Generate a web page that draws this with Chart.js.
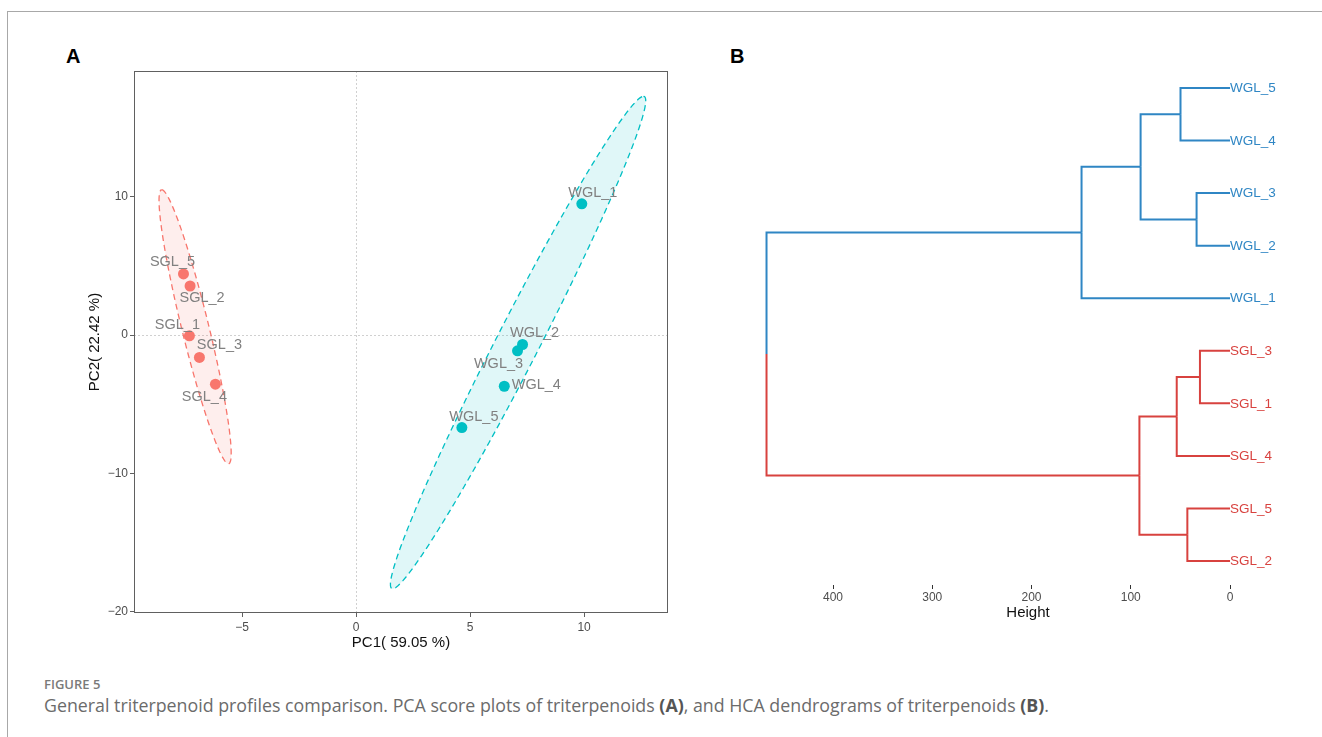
<!DOCTYPE html>
<html>
<head>
<meta charset="utf-8">
<script src="https://cdn.jsdelivr.net/npm/chart.js@4.4.1/dist/chart.umd.min.js"></script>
<style>
  html, body { margin: 0; padding: 0; background: #fff; }
  body { width: 1322px; height: 737px; position: relative; overflow: hidden; font-family: "Liberation Sans", Arial, sans-serif; }
  #frame { position: absolute; left: 7px; top: 11px; right: 0; bottom: 0; border-top: 1px solid #a8a8a8; border-left: 1px solid #a8a8a8; }
  .tag { position: absolute; top: 46px; font-size: 20px; line-height: 20px; font-weight: bold; color: #000; }
  #pcaChart { position: absolute; left: 0; top: 0; }
  #dendChart { position: absolute; left: 700px; top: 0; }
  .figno { position: absolute; left: 44px; top: 676px; font-family: "Open Sans", sans-serif; font-size: 13px; line-height: 16px; font-weight: 600; color: #7a7a7a; }
  .caption { position: absolute; left: 44px; top: 695px; font-family: "Open Sans", sans-serif; font-size: 17.8px; line-height: 20px; color: #6b6b6b; white-space: nowrap; }
  .caption b { color: #555; }
</style>
</head>
<body>
<div id="frame"></div>
<div class="tag" style="left:66px">A</div>
<div class="tag" style="left:730px">B</div>
<canvas id="pcaChart" width="700" height="665"></canvas>
<canvas id="dendChart" width="622" height="650"></canvas>
<div class="figno">FIGURE 5</div>
<div class="caption">General triterpenoid profiles comparison. PCA score plots of triterpenoids <b>(A)</b>, and HCA dendrograms of triterpenoids <b>(B)</b>.</div>

<script>
/* =========================================================
   PCA SCORES
========================================================= */
const sglNames = ["SGL_1", "SGL_2", "SGL_3", "SGL_4", "SGL_5"];
const sglPC1 = [-7.31, -7.28, -6.87, -6.17, -7.57];
const sglPC2 = [-0.05, 3.55, -1.62, -3.55, 4.42];

const wglNames = ["WGL_1", "WGL_2", "WGL_3", "WGL_4", "WGL_5"];
const wglPC1 = [9.90, 7.30, 7.08, 6.50, 4.64];
const wglPC2 = [9.49, -0.68, -1.14, -3.70, -6.69];

const pc1Ticks = [-5, 0, 5, 10];
const pc2Ticks = [-20, -10, 0, 10];

// confidence ellipses: centre, top point (vertical-tangent diameter), horizontal half chord
const sglEllipse = { cx: -7.06, cy: 0.60, ax: -1.46, ay: 9.91, bx: 0.61 };
const wglEllipse = { cx: 7.105, cy: -0.54, ax: 5.50, ay: 17.81, bx: 1.05 };

/* =========================================================
   HCA DENDROGRAM
========================================================= */
const leafLabels = ["WGL_5", "WGL_4", "WGL_3", "WGL_2", "WGL_1", "SGL_3", "SGL_1", "SGL_4", "SGL_5", "SGL_2"];
const leafCluster = [0, 0, 0, 0, 0, 1, 1, 1, 1, 1];
// hclust style: negative = leaf number, positive = earlier merge
const mergeA = [-1, -3, 1, 3, -6, 5, -9, 6, 4];
const mergeB = [-2, -4, 2, -5, -7, -8, -10, 7, 8];
const mergeHeight = [49.9, 33.7, 90.1, 149.6, 30.3, 53.7, 43.0, 91.3, 467.0];
const heightTicks = [400, 300, 200, 100, 0];

/* =========================================================
   STYLE
========================================================= */
const FONT = "'Liberation Sans', Arial, sans-serif";
const RED = "#F8766D";
const CYAN = "#00BFC4";
const clusterColors = ["#2F86C4", "#D8423F"];
const AXIS_GRAY = "#606060";

// label nudges (px) to mimic the repelled labels
const sglLabelOffsets = [[-12, -11], [12, 12], [20, -12], [-11, 13], [-11, -12]];
const wglLabelOffsets = [[11, -11], [12, -11], [-19, 13], [32, -1], [12, -11]];

Chart.defaults.font.family = FONT;

function toPoints(xs, ys) {
  return xs.map((x, i) => ({ x: x, y: ys[i] }));
}

// R style tick text with a real minus sign
const minusLabel = v => (v < 0 ? "\u2212" + Math.abs(v) : String(v));

function ellipsePoints(e) {
  const pts = [];
  for (let i = 0; i <= 120; i++) {
    const t = (i / 120) * Math.PI * 2;
    pts.push({
      x: e.cx + e.ax * Math.cos(t) + e.bx * Math.sin(t),
      y: e.cy + e.ay * Math.cos(t)
    });
  }
  return pts;
}

/* =========================================================
   PANEL A PLUGIN: zero lines, box, point labels
========================================================= */
const pcaDecor = {
  id: "pcaDecor",
  beforeDatasetsDraw(chart) {
    const { ctx, chartArea: a, scales: { x, y } } = chart;
    ctx.save();
    ctx.strokeStyle = "#c4c4c4";
    ctx.lineWidth = 0.8;
    ctx.setLineDash([2, 2]);
    const x0 = Math.round(x.getPixelForValue(0)) + 0.5;
    const y0 = Math.round(y.getPixelForValue(0)) + 0.5;
    ctx.beginPath();
    ctx.moveTo(x0, a.top); ctx.lineTo(x0, a.bottom);
    ctx.moveTo(a.left, y0); ctx.lineTo(a.right, y0);
    ctx.stroke();
    ctx.restore();
  },
  afterDatasetsDraw(chart) {
    const { ctx, chartArea: a, scales: { x, y } } = chart;
    ctx.save();
    ctx.font = "14.5px " + FONT;
    ctx.fillStyle = "#808080";
    ctx.textAlign = "center";
    ctx.textBaseline = "middle";
    sglNames.forEach((n, i) => {
      ctx.fillText(n, x.getPixelForValue(sglPC1[i]) + sglLabelOffsets[i][0], y.getPixelForValue(sglPC2[i]) + sglLabelOffsets[i][1]);
    });
    wglNames.forEach((n, i) => {
      ctx.fillText(n, x.getPixelForValue(wglPC1[i]) + wglLabelOffsets[i][0], y.getPixelForValue(wglPC2[i]) + wglLabelOffsets[i][1]);
    });
    ctx.strokeStyle = AXIS_GRAY;
    ctx.lineWidth = 1;
    ctx.strokeRect(a.left + 0.5, a.top + 0.5, a.right - a.left - 1, a.bottom - a.top - 1);
    ctx.restore();
  }
};

new Chart(document.getElementById("pcaChart"), {
  type: "scatter",
  data: {
    datasets: [
      { label: "SGL", data: toPoints(sglPC1, sglPC2), backgroundColor: RED, pointRadius: 5.5, pointBorderWidth: 0 },
      { label: "WGL", data: toPoints(wglPC1, wglPC2), backgroundColor: CYAN, pointRadius: 5.5, pointBorderWidth: 0 },
      {
        type: "line", data: ellipsePoints(sglEllipse), borderColor: RED, borderWidth: 1.3, borderDash: [6, 4],
        backgroundColor: "rgba(248,118,109,0.12)", fill: "shape", pointRadius: 0, tension: 0
      },
      {
        type: "line", data: ellipsePoints(wglEllipse), borderColor: CYAN, borderWidth: 1.3, borderDash: [6, 4],
        backgroundColor: "rgba(0,191,196,0.12)", fill: "shape", pointRadius: 0, tension: 0
      }
    ]
  },
  options: {
    responsive: false,
    animation: false,
    layout: { padding: { left: 0, right: 32, top: 71, bottom: 0 } },
    plugins: { legend: { display: false }, tooltip: { enabled: false } },
    scales: {
      x: {
        type: "linear", min: -9.74, max: 13.68,
        afterBuildTicks: s => { s.ticks = pc1Ticks.map(v => ({ value: v })); },
        afterFit: s => { s.height = 52; },
        grid: { drawOnChartArea: false, drawTicks: true, tickLength: 4, color: AXIS_GRAY },
        border: { display: false },
        ticks: { color: "#4d4d4d", font: { size: 12 }, padding: 3, maxRotation: 0, callback: minusLabel },
        title: { display: true, text: "PC1( 59.05 %)", color: "#111", font: { size: 15 }, padding: { top: 0, bottom: 13 } }
      },
      y: {
        type: "linear", min: -20.1, max: 19.1,
        afterBuildTicks: s => { s.ticks = pc2Ticks.map(v => ({ value: v })); },
        afterFit: s => { s.width = 134; },
        grid: { drawOnChartArea: false, drawTicks: true, tickLength: 4, color: AXIS_GRAY },
        border: { display: false },
        ticks: { color: "#4d4d4d", font: { size: 12 }, padding: 2, callback: minusLabel },
        title: { display: true, text: "PC2( 22.42 %)", color: "#111", font: { size: 15 }, padding: { top: 86, bottom: 0 } }
      }
    }
  },
  plugins: [pcaDecor]
});

/* =========================================================
   PANEL B: build dendrogram segments from merges
========================================================= */
const nodePos = [];
const nodeHeight = [];
const nodeCluster = [];

function childInfo(ref) {
  if (ref < 0) {
    const i = -ref - 1;
    return { pos: i + 1, h: 0, c: leafCluster[i] };
  }
  return { pos: nodePos[ref - 1], h: nodeHeight[ref - 1], c: nodeCluster[ref - 1] };
}

const dendSets = [];
mergeHeight.forEach((h, k) => {
  const a = childInfo(mergeA[k]);
  const b = childInfo(mergeB[k]);
  const mid = (a.pos + b.pos) / 2;
  nodePos.push(mid);
  nodeHeight.push(h);
  nodeCluster.push(a.c === b.c ? a.c : -1);
  [a, b].forEach(ch => {
    dendSets.push({
      type: "line",
      data: [{ x: ch.h, y: ch.pos }, { x: h, y: ch.pos }, { x: h, y: mid }],
      borderColor: clusterColors[ch.c],
      borderWidth: 2,
      pointRadius: 0,
      fill: false,
      tension: 0
    });
  });
});

const leafLabelPlugin = {
  id: "leafLabels",
  afterDatasetsDraw(chart) {
    const { ctx, scales: { x, y } } = chart;
    ctx.save();
    ctx.font = "13.5px " + FONT;
    ctx.textAlign = "left";
    ctx.textBaseline = "middle";
    leafLabels.forEach((lab, i) => {
      ctx.fillStyle = clusterColors[leafCluster[i]];
      ctx.fillText(lab, x.getPixelForValue(0), y.getPixelForValue(i + 1) + 0.5);
    });
    ctx.restore();
  }
};

new Chart(document.getElementById("dendChart"), {
  type: "scatter",
  data: { datasets: dendSets },
  options: {
    responsive: false,
    animation: false,
    layout: { padding: { left: 56, right: 22, top: 62, bottom: 0 } },
    plugins: { legend: { display: false }, tooltip: { enabled: false } },
    scales: {
      x: {
        type: "linear", reverse: true, min: -70.5, max: 477.6,
        afterBuildTicks: s => { s.ticks = heightTicks.map(v => ({ value: v })); },
        afterFit: s => { s.height = 65; },
        grid: { drawOnChartArea: false, drawTicks: true, tickLength: 4, color: "#333" },
        border: { display: false },
        ticks: { color: "#4d4d4d", font: { size: 12 }, padding: 1, maxRotation: 0 },
        title: { display: true, text: "Height", color: "#111", font: { size: 15 }, padding: { top: 0, bottom: 28 } }
      },
      y: { type: "linear", display: false, reverse: true, min: 0.505, max: 10.457 }
    }
  },
  plugins: [leafLabelPlugin]
});
</script>
</body>
</html>
